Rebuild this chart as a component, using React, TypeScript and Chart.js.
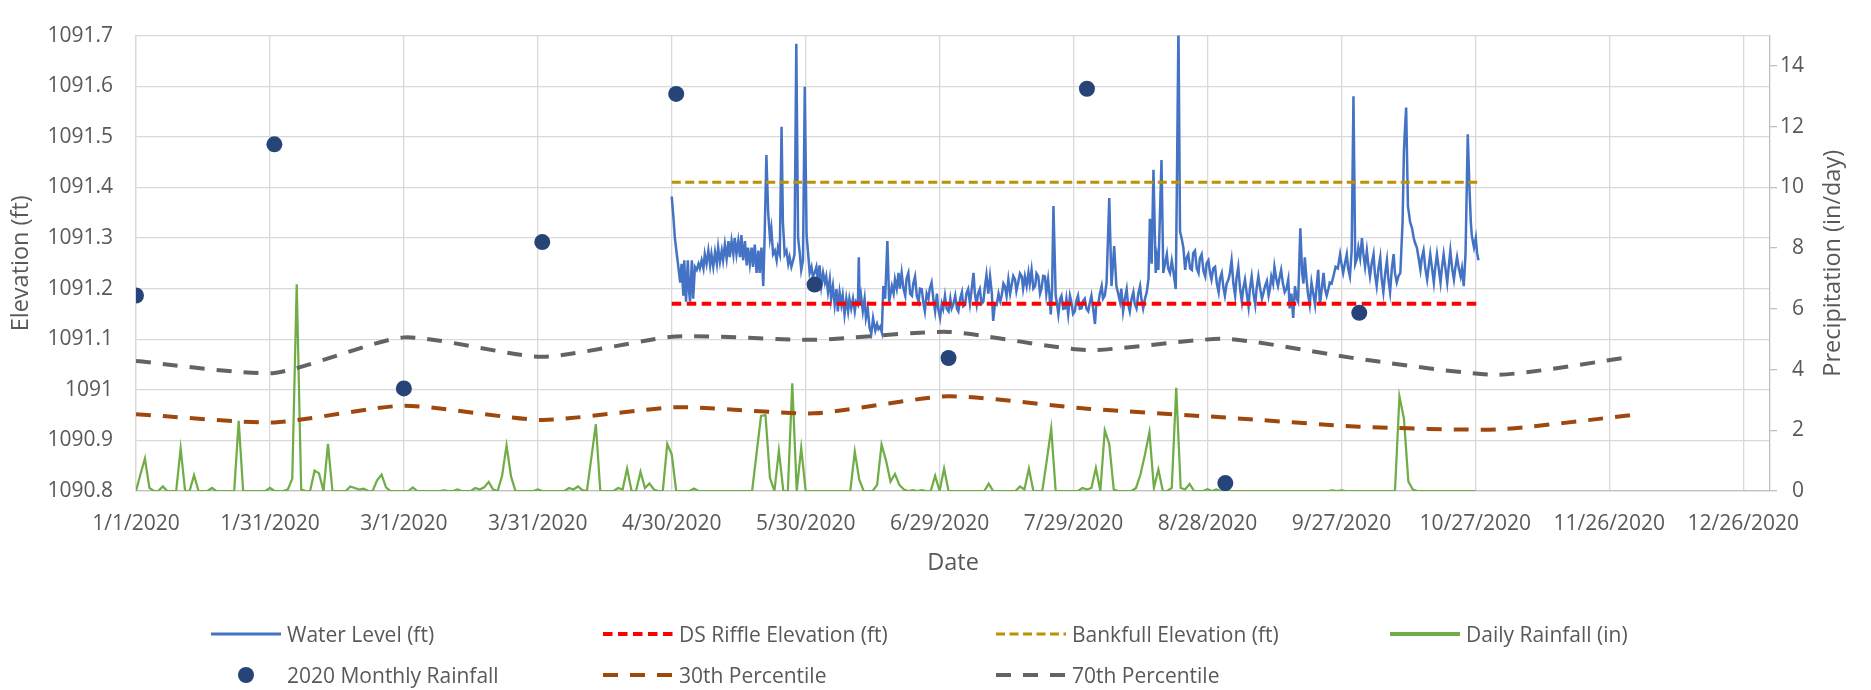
import React, { useEffect, useRef } from 'react';
import { Chart, registerables } from 'chart.js';

Chart.register(...registerables);

// ---------------- DATA ----------------
// x values are days since 1/1/2020 (0 = 1/1/2020)
const monthStarts = ['1/1/2020', '2/1/2020', '3/1/2020', '4/1/2020', '5/1/2020', '6/1/2020', '7/1/2020', '8/1/2020', '9/1/2020', '10/1/2020', '11/1/2020', '12/1/2020'];

// 2020 Monthly Rainfall (in), Jan..Oct
const monthlyRainfall = [6.44, 11.42, 3.38, 8.2, 13.08, 6.8, 4.38, 13.25, 0.26, 5.87];

// Percentiles (in), Jan..Dec
const pct30 = [2.53, 2.26, 2.81, 2.34, 2.76, 2.56, 3.12, 2.71, 2.42, 2.12, 2.03, 2.5];
const pct70 = [4.28, 3.89, 5.06, 4.42, 5.09, 4.98, 5.24, 4.64, 5.01, 4.35, 3.83, 4.42];

// Reference elevations (ft) and their span (days)
const dsRiffleElevation = 1091.17;
const bankfullElevation = 1091.41;
const referenceSpan = [120, 300.7];

// Daily rainfall (in), 1/1/2020 .. 10/27/2020
const rainJan = [0, 0.55, 1.07, 0.1, 0, 0, 0.15, 0, 0, 0, 1.4, 0, 0, 0.52, 0, 0, 0, 0.1, 0, 0, 0, 0, 0, 2.31, 0, 0, 0, 0, 0, 0, 0.1];
const rainFeb = [0, 0, 0, 0.05, 0.4, 6.81, 0.05, 0, 0, 0.67, 0.58, 0, 1.55, 0, 0, 0, 0, 0.15, 0.1, 0.05, 0.08, 0, 0, 0.35, 0.54, 0.12, 0, 0, 0];
const rainMar = [0, 0, 0.12, 0, 0, 0, 0, 0, 0, 0.02, 0, 0, 0.05, 0, 0, 0, 0.1, 0.05, 0.12, 0.3, 0.05, 0, 0.5, 1.5, 0.48, 0, 0, 0, 0, 0, 0.05];
const rainApr = [0, 0, 0, 0, 0, 0, 0.1, 0.05, 0.15, 0.03, 0, 1.1, 2.2, 0, 0, 0, 0, 0.1, 0.05, 0.74, 0, 0, 0.63, 0.1, 0.25, 0.05, 0, 0, 1.55, 1.21];
const rainMay = [0, 0, 0, 0, 0.08, 0, 0, 0, 0, 0, 0, 0, 0, 0, 0, 0, 0, 0, 1.24, 2.47, 2.5, 0.43, 0, 1.33, 0, 0, 3.55, 0, 1.42, 0, 0];
const rainJun = [0, 0, 0, 0, 0, 0, 0, 0, 0, 1.3, 0.37, 0, 0, 0, 0.2, 1.53, 1.0, 0.31, 0.56, 0.2, 0.05, 0, 0.03, 0, 0.03, 0, 0, 0.5, 0, 0.74];
const rainJul = [0, 0, 0, 0, 0, 0, 0, 0, 0, 0.24, 0, 0, 0, 0, 0, 0, 0.15, 0.05, 0.74, 0, 0, 0, 1.0, 2.06, 0, 0, 0, 0, 0, 0, 0.1];
const rainAug = [0.05, 0.1, 0.76, 0, 2.0, 1.55, 0.05, 0, 0, 0, 0, 0.1, 0.55, 1.2, 1.94, 0.1, 0.71, 0, 0, 0.1, 3.4, 0.1, 0.05, 0.23, 0, 0, 0, 0.06, 0, 0.05, 0];
const rainSep = [0, 0, 0, 0, 0, 0, 0, 0, 0, 0, 0, 0, 0, 0, 0, 0, 0, 0, 0, 0, 0, 0, 0, 0, 0.02, 0, 0.02, 0, 0, 0];
const rainOct = [0, 0, 0, 0, 0, 0, 0, 0, 0, 3.12, 2.39, 0.31, 0.05, 0, 0, 0, 0, 0, 0, 0, 0, 0, 0, 0, 0, 0, 0];

// Water level (ft): [day since 1/1/2020, elevation]
const waterLevelMay: [number, number][] = [
  [120.0, 1091.382], [120.4, 1091.338], [120.7, 1091.3], [121.3, 1091.256], [121.9, 1091.212], [122.2, 1091.249], [122.6, 1091.186], [122.8, 1091.256], [123.2, 1091.174], [123.6, 1091.256], [123.9, 1091.193], [124.1, 1091.174], [124.5, 1091.256], [124.8, 1091.18], [125.2, 1091.243], [125.6, 1091.237], [126.0, 1091.249], [126.3, 1091.24], [126.7, 1091.256], [127.1, 1091.24], [127.4, 1091.268], [127.8, 1091.249], [128.2, 1091.275], [128.6, 1091.246], [128.9, 1091.268], [129.3, 1091.243], [129.7, 1091.272], [130.1, 1091.249], [130.4, 1091.281], [130.8, 1091.253], [131.2, 1091.275], [131.5, 1091.256], [131.9, 1091.287], [132.3, 1091.259], [132.7, 1091.294], [133.0, 1091.262], [133.4, 1091.294], [133.8, 1091.268], [134.1, 1091.3], [134.5, 1091.268], [134.9, 1091.294], [135.3, 1091.262], [135.6, 1091.306], [136.0, 1091.256], [136.4, 1091.294], [136.8, 1091.246], [137.1, 1091.281], [137.5, 1091.249], [137.9, 1091.281], [138.2, 1091.243], [138.6, 1091.287], [139.0, 1091.231], [139.4, 1091.275], [139.7, 1091.231], [140.1, 1091.281], [140.5, 1091.205], [140.8, 1091.3], [141.2, 1091.464], [141.6, 1091.35], [142.0, 1091.3], [142.3, 1091.319], [142.7, 1091.268], [143.1, 1091.275], [143.5, 1091.256], [143.8, 1091.281], [144.2, 1091.268], [144.6, 1091.52], [144.9, 1091.331], [145.3, 1091.268], [145.7, 1091.275], [146.1, 1091.249], [146.4, 1091.262], [146.8, 1091.243], [147.2, 1091.256], [147.5, 1091.268], [147.9, 1091.684], [148.3, 1091.3], [148.7, 1091.268], [149.0, 1091.237], [149.4, 1091.256], [149.8, 1091.599], [150.2, 1091.306], [150.5, 1091.275], [150.9, 1091.231], [151.3, 1091.243], [151.6, 1091.224],
];
const waterLevelJun: [number, number][] = [
  [152.0, 1091.231], [152.4, 1091.243], [152.8, 1091.212], [153.1, 1091.246], [153.5, 1091.205], [153.9, 1091.231], [154.3, 1091.212], [154.6, 1091.224], [155.0, 1091.193], [155.4, 1091.218], [155.7, 1091.18], [156.1, 1091.205], [156.5, 1091.168], [156.9, 1091.199], [157.2, 1091.155], [157.6, 1091.193], [158.0, 1091.168], [158.3, 1091.186], [158.7, 1091.149], [159.1, 1091.18], [159.5, 1091.155], [159.8, 1091.18], [160.2, 1091.161], [160.6, 1091.18], [161.0, 1091.155], [161.3, 1091.174], [161.7, 1091.168], [161.9, 1091.262], [162.1, 1091.168], [162.4, 1091.186], [162.8, 1091.155], [163.2, 1091.18], [163.5, 1091.142], [163.9, 1091.161], [164.3, 1091.123], [164.7, 1091.111], [165.1, 1091.142], [165.6, 1091.117], [166.0, 1091.13], [166.3, 1091.12], [166.7, 1091.125], [167.05, 1091.114], [167.4, 1091.205], [167.8, 1091.18], [168.3, 1091.294], [168.7, 1091.174], [169.3, 1091.205], [169.7, 1091.19], [170.0, 1091.218], [170.4, 1091.2], [170.8, 1091.231], [171.1, 1091.2], [171.5, 1091.231], [171.9, 1091.2], [172.3, 1091.186], [172.6, 1091.22], [173.0, 1091.231], [173.4, 1091.19], [173.8, 1091.186], [174.1, 1091.21], [174.5, 1091.224], [174.9, 1091.185], [175.3, 1091.174], [175.6, 1091.2], [176.0, 1091.199], [176.4, 1091.17], [176.7, 1091.155], [177.1, 1091.19], [177.5, 1091.18], [177.8, 1091.2], [178.2, 1091.212], [178.6, 1091.18], [179.0, 1091.155], [179.4, 1091.19], [179.7, 1091.16], [180.1, 1091.142], [180.5, 1091.17], [180.8, 1091.16], [181.2, 1091.186], [181.6, 1091.16],
];
const waterLevelJul: [number, number][] = [
  [182.0, 1091.155], [182.4, 1091.18], [182.7, 1091.161], [183.1, 1091.17], [183.5, 1091.186], [183.9, 1091.16], [184.2, 1091.155], [184.6, 1091.18], [185.0, 1091.193], [185.3, 1091.165], [185.7, 1091.168], [186.0, 1091.19], [186.4, 1091.199], [186.8, 1091.17], [187.2, 1091.2], [187.6, 1091.231], [187.9, 1091.19], [188.3, 1091.168], [188.6, 1091.19], [189.0, 1091.199], [189.4, 1091.17], [189.8, 1091.174], [190.1, 1091.2], [190.5, 1091.227], [190.9, 1091.19], [191.3, 1091.224], [191.7, 1091.19], [192.0, 1091.136], [192.4, 1091.17], [192.8, 1091.168], [193.2, 1091.19], [193.6, 1091.175], [193.9, 1091.186], [194.3, 1091.21], [194.6, 1091.205], [195.0, 1091.185], [195.4, 1091.218], [195.8, 1091.19], [196.1, 1091.205], [196.5, 1091.225], [196.9, 1091.218], [197.2, 1091.195], [197.6, 1091.212], [198.0, 1091.23], [198.4, 1091.224], [198.7, 1091.2], [199.1, 1091.224], [199.5, 1091.205], [199.9, 1091.231], [200.2, 1091.21], [200.6, 1091.237], [201.0, 1091.2], [201.4, 1091.205], [201.7, 1091.23], [202.1, 1091.224], [202.5, 1091.19], [202.8, 1091.199], [203.2, 1091.225], [203.6, 1091.224], [203.9, 1091.19], [204.3, 1091.218], [204.6, 1091.19], [204.9, 1091.149], [205.2, 1091.2], [205.5, 1091.363], [206.0, 1091.186], [206.3, 1091.17], [206.6, 1091.149], [207.0, 1091.18], [207.3, 1091.186], [207.7, 1091.16], [208.1, 1091.161], [208.4, 1091.18], [208.8, 1091.149], [209.2, 1091.186], [209.5, 1091.174], [209.9, 1091.15], [210.3, 1091.155], [210.6, 1091.175], [211.0, 1091.186], [211.4, 1091.16], [211.8, 1091.161], [212.1, 1091.175], [212.5, 1091.18],
];
const waterLevelAug: [number, number][] = [
  [212.9, 1091.16], [213.3, 1091.155], [213.6, 1091.17], [214.0, 1091.186], [214.4, 1091.16], [214.8, 1091.13], [215.1, 1091.17], [215.5, 1091.168], [215.9, 1091.19], [216.3, 1091.205], [216.6, 1091.18], [217.0, 1091.186], [217.4, 1091.212], [218.0, 1091.379], [218.5, 1091.205], [219.1, 1091.284], [219.6, 1091.205], [220.0, 1091.19], [220.4, 1091.174], [220.7, 1091.2], [221.1, 1091.155], [221.5, 1091.18], [221.9, 1091.199], [222.2, 1091.17], [222.6, 1091.155], [223.0, 1091.18], [223.4, 1091.193], [223.7, 1091.17], [224.1, 1091.161], [224.5, 1091.19], [224.9, 1091.205], [225.2, 1091.18], [225.6, 1091.161], [226.0, 1091.18], [226.4, 1091.193], [226.8, 1091.22], [227.1, 1091.338], [227.5, 1091.249], [227.9, 1091.435], [228.4, 1091.231], [228.7, 1091.26], [229.0, 1091.237], [229.7, 1091.454], [230.1, 1091.231], [230.5, 1091.25], [230.9, 1091.268], [231.2, 1091.24], [231.6, 1091.231], [232.0, 1091.255], [232.4, 1091.231], [232.9, 1091.199], [233.2, 1091.45], [233.5, 1091.72], [233.85, 1091.313], [234.2, 1091.3], [234.6, 1091.281], [235.0, 1091.237], [235.3, 1091.26], [235.7, 1091.268], [236.1, 1091.24], [236.5, 1091.237], [236.8, 1091.27], [237.2, 1091.275], [237.6, 1091.24], [238.0, 1091.231], [238.3, 1091.26], [238.7, 1091.268], [239.1, 1091.235], [239.5, 1091.224], [239.8, 1091.25], [240.2, 1091.256], [240.6, 1091.23], [240.9, 1091.218], [241.3, 1091.24], [241.7, 1091.243], [242.1, 1091.21], [242.5, 1091.193], [242.8, 1091.22], [243.2, 1091.231], [243.6, 1091.2],
];
const waterLevelSep: [number, number][] = [
  [243.9, 1091.186], [244.3, 1091.21], [244.7, 1091.218], [245.0, 1091.23], [245.4, 1091.256], [245.8, 1091.21], [246.2, 1091.186], [246.5, 1091.22], [246.9, 1091.243], [247.3, 1091.2], [247.7, 1091.174], [248.0, 1091.2], [248.4, 1091.218], [248.8, 1091.19], [249.2, 1091.164], [249.5, 1091.2], [249.9, 1091.224], [250.3, 1091.19], [250.7, 1091.168], [251.0, 1091.2], [251.4, 1091.224], [251.8, 1091.2], [252.2, 1091.18], [252.5, 1091.19], [252.9, 1091.205], [253.3, 1091.215], [253.7, 1091.186], [254.0, 1091.2], [254.3, 1091.224], [254.7, 1091.21], [255.0, 1091.243], [255.4, 1091.22], [255.8, 1091.205], [256.1, 1091.22], [256.5, 1091.237], [256.9, 1091.21], [257.3, 1091.193], [257.7, 1091.2], [258.1, 1091.218], [258.4, 1091.161], [258.8, 1091.19], [259.2, 1091.142], [259.6, 1091.205], [260.0, 1091.18], [260.3, 1091.174], [260.8, 1091.319], [261.2, 1091.231], [261.5, 1091.21], [261.8, 1091.262], [262.2, 1091.218], [262.5, 1091.19], [262.9, 1091.168], [263.3, 1091.212], [263.7, 1091.19], [264.1, 1091.168], [264.4, 1091.2], [264.8, 1091.237], [265.2, 1091.168], [265.6, 1091.2], [266.0, 1091.231], [266.3, 1091.2], [266.7, 1091.186], [267.1, 1091.2], [267.4, 1091.212], [267.8, 1091.21], [268.2, 1091.224], [268.7, 1091.243], [269.2, 1091.24], [269.7, 1091.268], [270.0, 1091.25], [270.4, 1091.231], [270.8, 1091.25], [271.2, 1091.268], [271.5, 1091.24], [271.9, 1091.224], [272.3, 1091.275], [272.7, 1091.58], [273.1, 1091.249], [273.5, 1091.26],
];
const waterLevelOct: [number, number][] = [
  [273.8, 1091.281], [274.2, 1091.26], [274.6, 1091.3], [274.9, 1091.27], [275.3, 1091.243], [275.7, 1091.275], [276.0, 1091.25], [276.4, 1091.224], [276.8, 1091.25], [277.2, 1091.268], [277.5, 1091.23], [277.9, 1091.205], [278.3, 1091.24], [278.7, 1091.262], [279.0, 1091.22], [279.4, 1091.193], [279.8, 1091.23], [280.2, 1091.256], [280.5, 1091.22], [280.9, 1091.193], [281.3, 1091.24], [281.7, 1091.268], [282.0, 1091.23], [282.4, 1091.212], [282.8, 1091.225], [283.2, 1091.231], [283.7, 1091.331], [284.0, 1091.47], [284.2, 1091.51], [284.5, 1091.558], [284.9, 1091.363], [285.4, 1091.331], [285.8, 1091.32], [286.2, 1091.3], [286.5, 1091.29], [286.9, 1091.281], [287.3, 1091.26], [287.7, 1091.237], [288.0, 1091.26], [288.4, 1091.275], [288.8, 1091.24], [289.2, 1091.218], [289.5, 1091.24], [289.9, 1091.268], [290.3, 1091.24], [290.7, 1091.212], [291.0, 1091.24], [291.4, 1091.268], [291.8, 1091.24], [292.2, 1091.212], [292.5, 1091.24], [292.9, 1091.268], [293.3, 1091.24], [293.7, 1091.212], [294.0, 1091.24], [294.4, 1091.275], [294.8, 1091.24], [295.2, 1091.218], [295.5, 1091.24], [295.9, 1091.262], [296.3, 1091.24], [296.7, 1091.224], [297.0, 1091.24], [297.4, 1091.205], [297.8, 1091.268], [298.3, 1091.505], [298.7, 1091.394], [299.0, 1091.33], [299.2, 1091.306], [299.5, 1091.29], [299.7, 1091.281], [300.1, 1091.3], [300.4, 1091.27], [300.7, 1091.256],
];

// ---------------- HELPERS ----------------
const dayOf = (s: string) => {
  const [m, d, y] = s.split('/').map(Number);
  return Math.round((Date.UTC(y, m - 1, d) - Date.UTC(2020, 0, 1)) / 86400000);
};
const dateLabel = (v: number) => {
  const d = new Date(Date.UTC(2020, 0, 1) + Math.round(v) * 86400000);
  return `${d.getUTCMonth() + 1}/${d.getUTCDate()}/${d.getUTCFullYear()}`;
};

const TEXT = '#595959';
const FONT = "'Open Sans', 'Noto Sans', sans-serif";

const COLORS = {
  water: '#4472C4',
  riffle: '#FF0000',
  bankfull: '#BF9000',
  rain: '#70AD47',
  monthly: '#264478',
  p30: '#9E480E',
  p70: '#636363',
};

const rightTitlePlugin = {
  id: 'rightTitle',
  afterDraw(chart: any) {
    const { ctx, chartArea } = chart;
    const y1 = chart.scales.y1;
    ctx.save();
    ctx.translate(y1.right + 29, (chartArea.top + chartArea.bottom) / 2);
    ctx.rotate(-Math.PI / 2);
    ctx.font = `23.5px ${FONT}`;
    ctx.fillStyle = TEXT;
    ctx.textAlign = 'center';
    ctx.textBaseline = 'middle';
    ctx.fillText('Precipitation (in/day)', 0, 0);
    ctx.restore();
  },
};

type LegendItem = { label: string; kind: 'line' | 'dot'; color: string; width?: number; dash?: string };
const legendRows: LegendItem[][] = [
  [
    { label: 'Water Level (ft)', kind: 'line', color: COLORS.water, width: 3 },
    { label: 'DS Riffle Elevation (ft)', kind: 'line', color: COLORS.riffle, width: 4, dash: '9.5,5.5' },
    { label: 'Bankfull Elevation (ft)', kind: 'line', color: COLORS.bankfull, width: 3, dash: '9,4.5' },
    { label: 'Daily Rainfall (in)', kind: 'line', color: COLORS.rain, width: 4 },
  ],
  [
    { label: '2020 Monthly Rainfall', kind: 'dot', color: COLORS.monthly },
    { label: '30th Percentile', kind: 'line', color: COLORS.p30, width: 4, dash: '15,12' },
    { label: '70th Percentile', kind: 'line', color: COLORS.p70, width: 4, dash: '15,12' },
  ],
];
const legendColX = [211, 603, 996, 1390];
const legendRowY = [634, 675];

export default function App() {
  const canvasRef = useRef<HTMLCanvasElement | null>(null);

  useEffect(() => {
    if (!canvasRef.current) return;
    Chart.defaults.font.family = FONT;
    Chart.defaults.color = TEXT;

    const waterLevel = [...waterLevelMay, ...waterLevelJun, ...waterLevelJul, ...waterLevelAug, ...waterLevelSep, ...waterLevelOct];
    const dailyRain = [...rainJan, ...rainFeb, ...rainMar, ...rainApr, ...rainMay, ...rainJun, ...rainJul, ...rainAug, ...rainSep, ...rainOct];
    const monthDays = monthStarts.map(dayOf);

    const chart = new Chart(canvasRef.current, {
      type: 'line',
      data: {
        datasets: [
          {
            label: 'Water Level (ft)',
            data: waterLevel.map(([x, y]) => ({ x, y })),
            borderColor: COLORS.water,
            borderWidth: 2.5,
            pointRadius: 0,
            yAxisID: 'y',
            order: 10,
          },
          {
            label: 'DS Riffle Elevation (ft)',
            data: referenceSpan.map((x) => ({ x, y: dsRiffleElevation })),
            borderColor: COLORS.riffle,
            borderWidth: 4,
            borderDash: [9.5, 5.5],
            pointRadius: 0,
            yAxisID: 'y',
            order: 5,
          },
          {
            label: 'Bankfull Elevation (ft)',
            data: referenceSpan.map((x) => ({ x, y: bankfullElevation })),
            borderColor: COLORS.bankfull,
            borderWidth: 3,
            borderDash: [9, 4.5],
            pointRadius: 0,
            yAxisID: 'y',
            order: 4,
          },
          {
            label: 'Daily Rainfall (in)',
            data: dailyRain.map((y, i) => ({ x: i, y })),
            borderColor: COLORS.rain,
            borderWidth: 2.25,
            pointRadius: 0,
            yAxisID: 'y1',
            order: 3,
          },
          {
            label: '2020 Monthly Rainfall',
            data: monthlyRainfall.map((y, i) => ({ x: monthDays[i], y })),
            showLine: false,
            pointRadius: 8,
            pointBackgroundColor: COLORS.monthly,
            pointBorderWidth: 0,
            borderColor: COLORS.monthly,
            yAxisID: 'y1',
            order: 0,
          },
          {
            label: '30th Percentile',
            data: pct30.map((y, i) => ({ x: monthDays[i], y })),
            borderColor: COLORS.p30,
            borderWidth: 4,
            borderDash: [15, 12],
            tension: 0.2,
            pointRadius: 0,
            yAxisID: 'y1',
            order: 2,
          },
          {
            label: '70th Percentile',
            data: pct70.map((y, i) => ({ x: monthDays[i], y })),
            borderColor: COLORS.p70,
            borderWidth: 4,
            borderDash: [15, 12],
            tension: 0.2,
            pointRadius: 0,
            yAxisID: 'y1',
            order: 1,
          },
        ],
      },
      options: {
        animation: false,
        responsive: true,
        maintainAspectRatio: false,
        events: [],
        layout: { padding: { left: 0, right: 67, top: 15, bottom: 99 } },
        plugins: { legend: { display: false }, tooltip: { enabled: false } },
        scales: {
          x: {
            type: 'linear',
            min: 0,
            max: 366,
            afterFit: (s: any) => { s.height = 100; },
            ticks: {
              stepSize: 30,
              includeBounds: false,
              autoSkip: false,
              maxRotation: 0,
              padding: 20,
              color: TEXT,
              font: { size: 21 },
              callback: (v: any) => dateLabel(Number(v)),
            },
            grid: { color: '#d9d9d9', lineWidth: 1.3, drawTicks: false },
            border: { color: '#bfbfbf', width: 1.3 },
            title: { display: true, text: 'Date', color: TEXT, font: { size: 23.5 }, padding: { top: 0, bottom: 14 } },
          },
          y: {
            position: 'left',
            min: 1090.8,
            max: 1091.7,
            afterFit: (s: any) => { s.width = 136; },
            ticks: {
              stepSize: 0.1,
              padding: 23,
              color: TEXT,
              font: { size: 21 },
              callback: (v: any) => String(Number(Number(v).toFixed(1))),
            },
            grid: { color: '#d9d9d9', lineWidth: 1.3, drawTicks: false },
            border: { color: '#d9d9d9', width: 1.3 },
            title: { display: true, text: 'Elevation (ft)', color: TEXT, font: { size: 23.5 }, padding: { top: 7, bottom: 0 } },
          },
          y1: {
            position: 'right',
            min: 0,
            max: 15,
            afterFit: (s: any) => { s.width = 34; },
            ticks: {
              stepSize: 2,
              includeBounds: false,
              crossAlign: 'far',
              color: TEXT,
              font: { size: 21 },
            },
            grid: { drawOnChartArea: false, drawTicks: true, tickLength: 7, tickColor: '#bfbfbf', lineWidth: 1.3, color: '#bfbfbf' },
            border: { color: '#bfbfbf', width: 1.3 },
          },
        },
      } as any,
      plugins: [rightTitlePlugin],
    });
    return () => chart.destroy();
  }, []);

  return (
    <div style={{ position: 'fixed', left: 0, top: 0, width: 1871, height: 690, background: '#fff', fontFamily: FONT }}>
      <canvas ref={canvasRef} />
      {legendRows.map((row, r) =>
        row.map((item, c) => (
          <div
            key={`${r}-${c}`}
            style={{
              position: 'absolute',
              left: legendColX[c],
              top: legendRowY[r] - 15,
              height: 30,
              display: 'flex',
              alignItems: 'center',
              whiteSpace: 'nowrap',
              color: TEXT,
              fontSize: 21,
            }}
          >
            <svg width={70} height={20} style={{ marginRight: 6, flex: 'none' }}>
              {item.kind === 'dot' ? (
                <circle cx={35} cy={10} r={8} fill={item.color} />
              ) : (
                <line x1={0} y1={10} x2={70} y2={10} stroke={item.color} strokeWidth={item.width} strokeDasharray={item.dash} />
              )}
            </svg>
            <span>{item.label}</span>
          </div>
        ))
      )}
    </div>
  );
}
